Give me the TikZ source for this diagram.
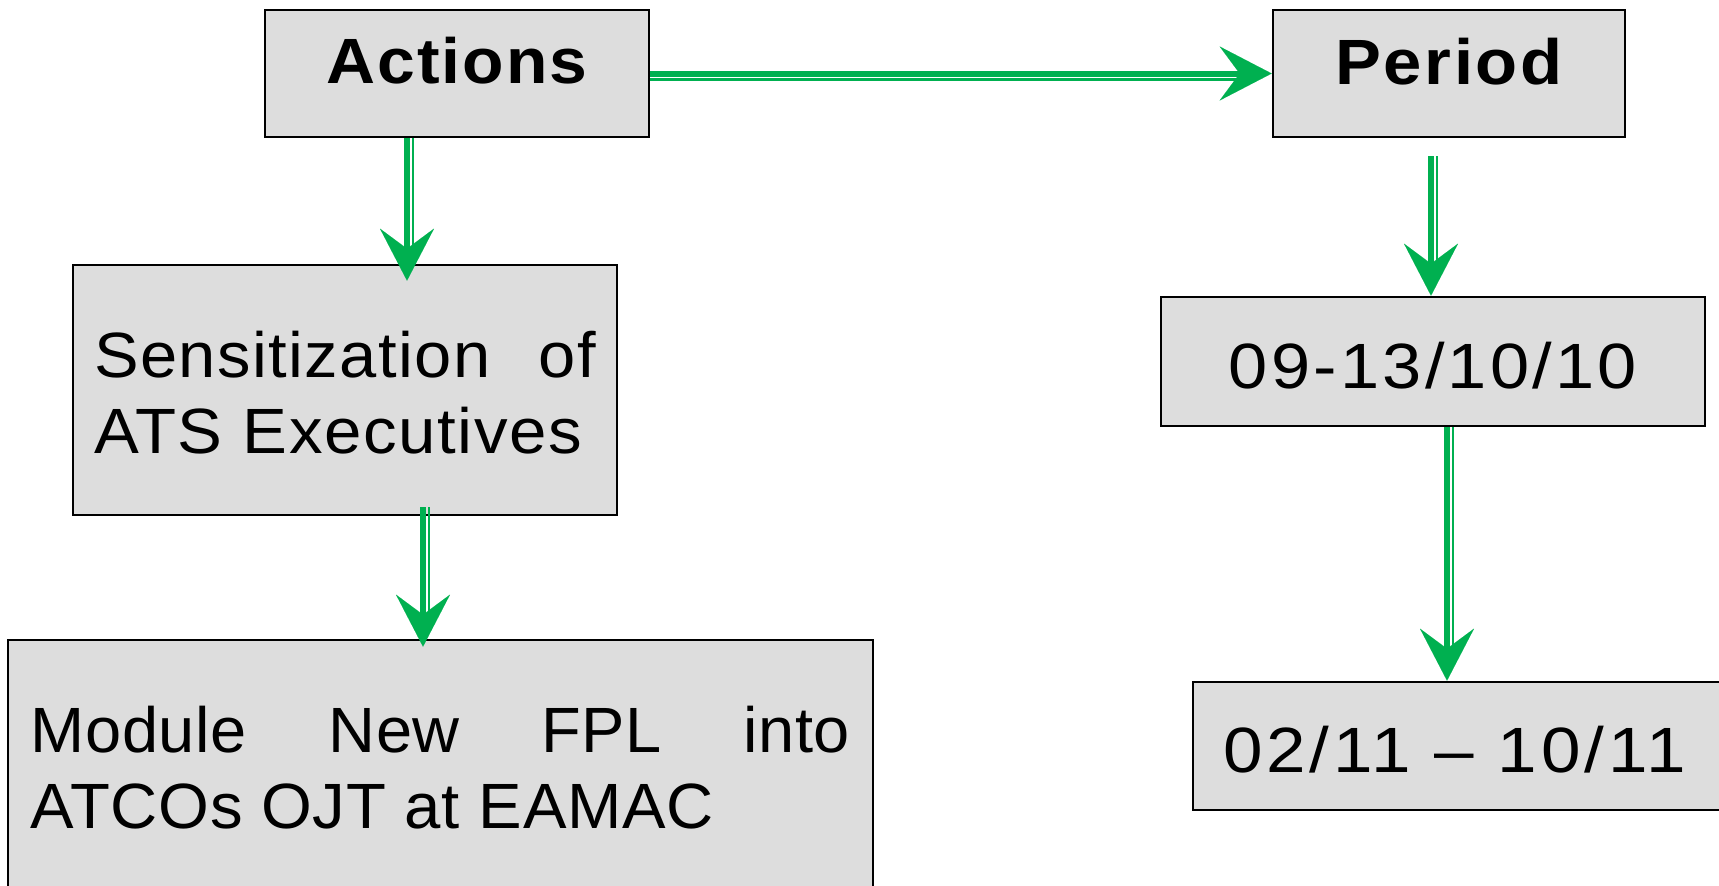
\documentclass[tikz,border=0pt]{standalone}
\usepackage{fontspec}
\setmainfont{Liberation Sans}
\usepackage{graphicx}
\usetikzlibrary{arrows.meta}
\definecolor{boxgray}{RGB}{221,221,221}
\definecolor{arrowgreen}{RGB}{0,176,80}
% widened text: #1 horizontal scale, #2 letter spacing (hundredths of an em)
\newcommand\widetext[3]{\scalebox{#1}[1]{\addfontfeature{LetterSpace=#2}#3}}
% double-rail green connector: thick shaft with head, thin rail beside it
\newcommand\gconn[3]{%
  \draw[rail, transform canvas={#3}] #1 -- #2;
  \draw[shaft] #1 -- #2;}

\begin{document}
\begin{tikzpicture}[x=0.5pt,y=-0.5pt,
  font=\fontsize{32pt}{38pt}\selectfont,
  box/.style={rectangle, draw=black, line width=1.35pt, fill=boxgray, inner sep=0pt},
  shaft/.style={draw=arrowgreen, line width=3pt,
    -{Stealth[length=26pt,width=27pt,inset=10pt,line width=0.01pt]}},
  rail/.style={draw=arrowgreen, line width=1.1pt, shorten >=17pt}]
\useasboundingbox (0,0) rectangle (1719,885);
\clip (0,0) rectangle (1719,885);

% left column
\node[box, minimum width=192pt, text height=36.5pt, text depth=27pt]
  (act) at (457,73.5) {\widetext{1.06}{3}{\bfseries Actions}};
\node[box, minimum width=272pt, text height=56pt, text depth=69pt]
  (sens) at (345,390) {\parbox[t]{251pt}{%
    \widetext{1.045}{2.2}{\makebox[240.2pt][s]{Sensitization\hfill of}}\\
    \widetext{1.05}{2.3}{ATS Executives}}};
\node[box, minimum width=432.5pt, text height=56pt, text depth=104pt]
  (mod) at (440.5,800) {\parbox[t]{409.5pt}{%
    \widetext{1.015}{0.85}{\makebox[403.4pt][s]{Module\hfill New\hfill FPL\hfill into}}\\
    \widetext{1.02}{1}{ATCOs OJT at EAMAC}}};

% right column
\node[box, minimum width=176pt, text height=37pt, text depth=26.5pt]
  (per) at (1449,73.5) {\widetext{1.075}{3.8}{\bfseries Period}};
\node[box, minimum width=272pt, text height=45.5pt, text depth=19pt]
  (d1) at (1433,361.5) {\widetext{1.1}{4.6}{09-13/10/10}};
\node[box, minimum width=283.5pt, text height=45pt, text depth=19pt]
  (d2) at (1476.5,746) {\makebox[253.5pt][l]{\widetext{1.11}{5.5}{02/11 – 10/11}}};

% connectors
\gconn{(act.east)}{(per.west)}{yshift=-3pt}
\gconn{(act.south -| 407,0)}{([yshift=-8.5pt]sens.north -| 407,0)}{xshift=3pt}
\gconn{([yshift=4.5pt]sens.south -| 423,0)}{([yshift=-4pt]mod.north -| 423,0)}{xshift=3pt}
\gconn{([yshift=-9pt]per.south -| 1431,0)}{(d1.north -| 1431,0)}{xshift=3pt}
\gconn{(d1.south -| 1447,0)}{(d2.north -| 1447,0)}{xshift=3pt}
\end{tikzpicture}
\end{document}
